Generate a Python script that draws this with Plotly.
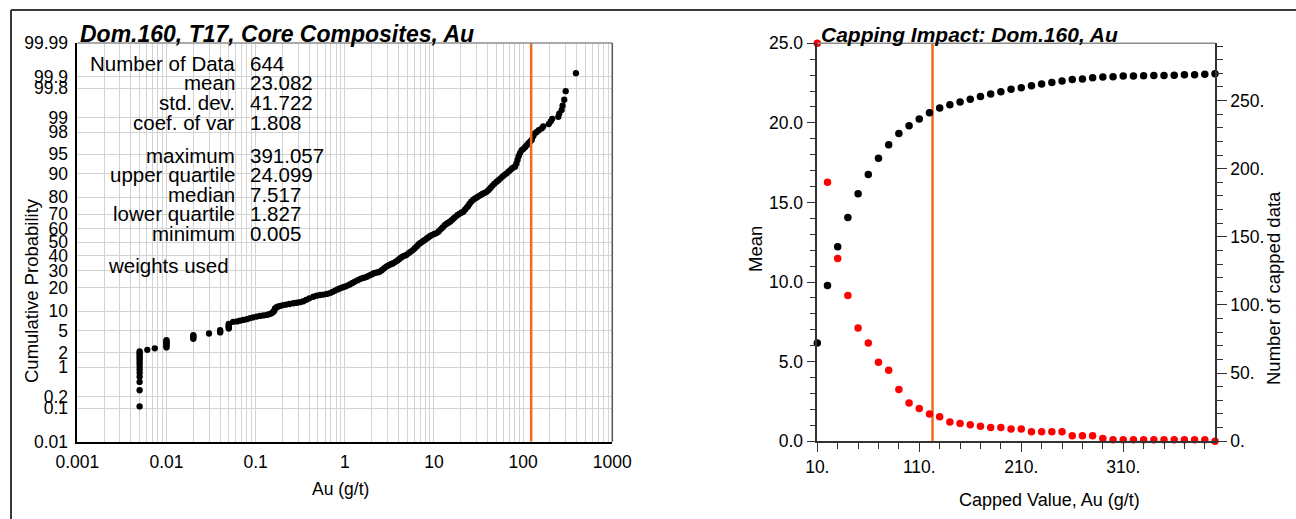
import plotly.graph_objects as go
from statistics import NormalDist

# ---------------- cumulative probability plot: Au composites ----------------
au_grade = [
    0.005, 0.005, 0.005, 0.005, 0.005, 0.005, 0.005, 0.005, 0.005, 0.005, 0.005, 0.005, 0.005, 0.005,
    0.0061, 0.0074,
    0.01, 0.01, 0.01, 0.01, 0.01, 0.01, 0.01,
    0.02, 0.02, 0.02, 0.02,
    0.03,
    0.04, 0.04, 0.04,
    0.05, 0.05, 0.05, 0.05, 0.05,
    0.056, 0.062, 0.067, 0.073, 0.08, 0.087, 0.094, 0.103, 0.112, 0.122, 0.133, 0.142, 0.151,
    0.158, 0.162, 0.165, 0.172, 0.18, 0.19, 0.204, 0.22, 0.24, 0.265, 0.29, 0.315, 0.344, 0.37,
    0.4, 0.444, 0.485, 0.53, 0.58, 0.63, 0.684, 0.73, 0.78, 0.83, 0.88, 0.94, 1.0, 1.07, 1.14,
    1.22, 1.3, 1.4, 1.5, 1.6, 1.7, 1.8, 1.9, 2.0, 2.12, 2.25, 2.38, 2.48, 2.6, 2.75, 2.9, 3.05,
    3.2, 3.35, 3.5, 3.7, 3.9, 4.1, 4.3, 4.5, 4.7, 4.94, 5.2, 5.5, 5.8, 6.1, 6.4, 6.7, 7.0, 7.3,
    7.59, 7.9, 8.3, 8.7, 9.1, 9.6, 10.1, 10.7, 11.3, 11.9, 12.5, 13.2, 13.9, 14.5, 15.1, 15.8,
    16.6, 17.4, 18.3, 19.3, 20.3, 21.3, 22.3, 23.3, 24.1, 25.0, 26.2, 27.6, 29.0, 30.5, 32.0,
    33.6, 35.3, 37.1, 39.0, 41.0, 43.0, 45.2, 47.6, 50.5, 53.0, 55.8, 58.8, 62.0, 65.4, 69.0,
    72.8, 77.0, 81.1, 84.0, 86.5, 89.0, 92.2, 96.0, 100.0, 105.0, 110.0, 115.0, 120.0, 124.8,
    130.0, 135.9, 142.0, 150.0, 162.0, 168.0, 194.0, 204.0, 212.0, 248.0, 254.0, 270.0, 277.0,
    289.0, 300.0, 391.057,
]
cum_prob = [
    0.11, 0.29, 0.46, 0.61, 0.75, 0.9, 1.05, 1.2, 1.35, 1.5, 1.65, 1.8, 1.95, 2.1,
    2.25, 2.4,
    2.5, 2.65, 2.8, 2.95, 3.1, 3.25, 3.4,
    3.6, 3.8, 4.0, 4.15,
    4.45,
    4.65, 4.85, 5.05,
    5.4, 5.65, 5.9, 6.15, 6.4,
    6.9, 7.0, 7.2, 7.4, 7.6, 7.9, 8.1, 8.3, 8.5, 8.65, 8.8, 9.0, 9.3,
    9.7, 10.2, 10.9, 11.3, 11.6, 11.8, 12.1, 12.3, 12.5, 12.8, 13.0, 13.2, 13.6, 14.2,
    14.8, 15.5, 16.0, 16.3, 16.5, 16.8, 17.2, 17.8, 18.4, 19.0, 19.5, 20.0, 20.4, 21.0, 21.6,
    22.4, 23.2, 24.0, 24.8, 25.3, 25.7, 26.2, 26.9, 27.5, 28.2, 28.6, 28.9, 29.3, 30.2, 31.3, 32.4, 33.2,
    33.8, 34.4, 34.9, 35.8, 36.8, 37.8, 38.9, 39.7, 40.2, 40.8, 42.0, 43.2, 44.3, 45.6, 47.0, 48.4, 49.4, 50.2,
    51.0, 51.8, 52.9, 53.8, 54.7, 55.6, 56.2, 56.9, 58.1, 59.6, 61.0, 62.5, 63.6, 64.3, 65.0, 66.0,
    67.2, 68.3, 69.4, 70.3, 71.0, 71.6, 72.9, 74.2, 75.0, 76.3, 77.6, 78.7, 79.4, 80.0, 80.6,
    81.2, 81.8, 82.2, 82.7, 83.6, 84.5, 85.4, 86.3, 87.1, 87.7, 88.4, 89.0, 89.6, 90.1, 90.7,
    91.3, 91.8, 92.1, 92.9, 93.8, 94.6, 95.2, 95.7, 95.9, 96.2, 96.5, 96.8, 97.0, 97.2,
    97.6, 97.9, 98.03, 98.18, 98.33, 98.47, 98.63, 98.8, 98.94, 99.04, 99.18, 99.32, 99.46,
    99.61, 99.76, 99.92,
]

prob_ticks = [0.01, 0.1, 0.2, 1, 2, 5, 10, 20, 30, 40, 50, 60, 70, 80, 90, 95, 98, 99, 99.8, 99.9, 99.99]
prob_tick_labels = ["0.01", "0.1", "0.2", "1", "2", "5", "10", "20", "30", "40", "50",
                    "60", "70", "80", "90", "95", "98", "99", "99.8", "99.9", "99.99"]
grade_decades = [0.001, 0.01, 0.1, 1, 10, 100, 1000]
grade_decade_labels = ["0.001", "0.01", "0.1", "1", "10", "100", "1000"]

stat_names = ["Number of Data", "mean", "std. dev.", "coef. of var",
              "maximum", "upper quartile", "median", "lower quartile", "minimum"]
stat_values = ["644", "23.082", "41.722", "1.808",
               "391.057", "24.099", "7.517", "1.827", "0.005"]

cap_grade = 123.0

# ---------------- capping impact ----------------
cap_levels = [10, 20, 30, 40, 50, 60, 70, 80, 90, 100, 110, 120, 130, 140, 150, 160, 170, 180, 190, 200,
              210, 220, 230, 240, 250, 260, 270, 280, 290, 300, 310, 320, 330, 340, 350, 360, 370, 380, 390, 400]
capped_mean = [6.17, 9.79, 12.22, 14.06, 15.55, 16.76, 17.77, 18.63, 19.34, 19.82,
               20.24, 20.64, 20.93, 21.14, 21.31, 21.48, 21.65, 21.82, 21.96, 22.11,
               22.21, 22.34, 22.44, 22.53, 22.63, 22.72, 22.76, 22.84, 22.88, 22.90,
               22.94, 22.94, 22.96, 22.98, 22.98, 23.00, 23.02, 23.02, 23.05, 23.08]
n_capped = [292, 190, 134, 107, 83, 72, 58, 52, 38, 28, 24, 20, 18, 14, 13, 12, 11, 10, 10, 9,
            9, 7, 7, 7, 7, 4, 4, 4, 2, 1, 1, 1, 1, 1, 1, 1, 1, 1, 1, 0]
mean_ticks = [0, 5, 10, 15, 20, 25]
mean_tick_labels = ["0.0", "5.0", "10.0", "15.0", "20.0", "25.0"]
count_ticks = [0, 50, 100, 150, 200, 250]
count_tick_labels = ["0.", "50.", "100.", "150.", "200.", "250."]
cap_ticks = [10, 110, 210, 310]
cap_tick_labels = ["10.", "110.", "210.", "310."]

# ---------------- page geometry (pixels) ----------------
W, H = 1296, 519
FONT = "Liberation Sans, Arial, sans-serif"
GRID = "#d3d3d3"
ORANGE = "#ef6b22"


def fx(x):
    return x / W


def fy(y):
    return 1 - y / H


nd = NormalDist()


def z_of(p):
    return nd.inv_cdf(p / 100.0)


L_X0, L_X1, L_Y0, L_Y1 = 77.3, 612.3, 43.0, 441.7
R_X0, R_X1, R_Y0, R_Y1 = 817.3, 1215.0, 43.3, 441.2

grid_vals = [d * m for d in grade_decades[:-1] for m in range(1, 10)] + [grade_decades[-1]]
grid_text = [grade_decade_labels[grade_decades.index(v)] if v in grade_decades else "" for v in grid_vals]

fig = go.Figure()

fig.add_trace(go.Scatter(
    x=au_grade, y=[z_of(p) for p in cum_prob], mode="markers",
    marker=dict(color="black", size=6.3), xaxis="x", yaxis="y",
    cliponaxis=False, hoverinfo="skip", showlegend=False))
fig.add_trace(go.Scatter(
    x=[cap_grade, cap_grade], y=[z_of(0.01), z_of(99.99)], mode="lines",
    line=dict(color=ORANGE, width=2.5), xaxis="x", yaxis="y", showlegend=False, hoverinfo="skip"))

fig.add_trace(go.Scatter(
    x=[cap_grade, cap_grade], y=[0, 25], mode="lines",
    line=dict(color=ORANGE, width=2.5), xaxis="x2", yaxis="y2", showlegend=False, hoverinfo="skip"))
fig.add_trace(go.Scatter(
    x=cap_levels, y=capped_mean, mode="markers", marker=dict(color="black", size=7.5),
    xaxis="x2", yaxis="y2", cliponaxis=False, showlegend=False, name="Mean"))
fig.add_trace(go.Scatter(
    x=cap_levels, y=n_capped, mode="markers", marker=dict(color="#ff0000", size=7.5),
    xaxis="x2", yaxis="y3", cliponaxis=False, showlegend=False, name="Number of capped data"))

tickfont = dict(family=FONT, size=17.5, color="black")

fig.update_layout(
    width=W, height=H, margin=dict(l=0, r=0, t=0, b=0, autoexpand=False),
    paper_bgcolor="white", plot_bgcolor="white",
    font=dict(family=FONT, color="black"),
    xaxis=dict(
        domain=[fx(L_X0), fx(L_X1)], anchor="y", type="log", range=[-3, 3],
        tickmode="array", tickvals=grid_vals, ticktext=grid_text,
        showgrid=True, gridcolor=GRID, gridwidth=1, ticks="", zeroline=False,
        showline=True, linecolor="black", linewidth=1.5, tickfont=tickfont,
        ticklabelstandoff=4, automargin=False),
    yaxis=dict(
        domain=[fy(L_Y1), fy(L_Y0)], anchor="x", range=[z_of(0.01), z_of(99.99)],
        tickmode="array", tickvals=[z_of(p) for p in prob_ticks], ticktext=prob_tick_labels,
        showgrid=True, gridcolor=GRID, gridwidth=1, ticks="", zeroline=False,
        showline=True, linecolor="black", linewidth=1.5, tickfont=tickfont,
        ticklabelstandoff=4, automargin=False),
    xaxis2=dict(
        domain=[fx(R_X0), fx(R_X1)], anchor="y2", range=[10, 400],
        tickmode="array", tickvals=cap_ticks, ticktext=cap_tick_labels,
        ticks="outside", ticklen=9, tickwidth=1, tickcolor="#333",
        minor=dict(tickmode="linear", tick0=10, dtick=20, ticks="outside", ticklen=6,
                   tickcolor="#333", showgrid=False),
        showgrid=False, zeroline=False, showline=True, linecolor="#333", linewidth=1.5,
        tickfont=tickfont, automargin=False),
    yaxis2=dict(
        domain=[fy(R_Y1), fy(R_Y0)], anchor="x2", range=[0, 25],
        tickmode="array", tickvals=mean_ticks, ticktext=mean_tick_labels,
        ticks="outside", ticklen=9, tickwidth=1, tickcolor="#333",
        minor=dict(tickmode="linear", tick0=0, dtick=1, ticks="outside", ticklen=6,
                   tickcolor="#333", showgrid=False),
        showgrid=False, zeroline=False, showline=True, linecolor="#333", linewidth=1.5,
        tickfont=tickfont, automargin=False),
    yaxis3=dict(
        domain=[fy(R_Y1), fy(R_Y0)], anchor="x2", overlaying="y2", side="right",
        range=[0, 292],
        tickmode="array", tickvals=count_ticks, ticktext=count_tick_labels,
        ticks="outside", ticklen=10, tickwidth=1, tickcolor="#333",
        minor=dict(tickmode="linear", tick0=0, dtick=10, ticks="outside", ticklen=6,
                   tickcolor="#333", showgrid=False),
        showgrid=False, zeroline=False, showline=True, linecolor="#333", linewidth=1.5,
        tickfont=tickfont, automargin=False),
)

shapes = [
    # outer frame
    dict(type="line", xref="paper", yref="paper", x0=fx(11), x1=fx(11), y0=fy(10), y1=fy(H + 5),
         line=dict(color="#3a3a3a", width=2)),
    dict(type="line", xref="paper", yref="paper", x0=fx(11), x1=fx(W + 5), y0=fy(10), y1=fy(10),
         line=dict(color="#3a3a3a", width=2)),
    # left panel top and right edges
    dict(type="line", xref="paper", yref="paper", x0=fx(L_X0), x1=fx(L_X1), y0=fy(L_Y0), y1=fy(L_Y0),
         line=dict(color="#8c8c8c", width=1.5)),
    dict(type="line", xref="paper", yref="paper", x0=fx(L_X1), x1=fx(L_X1), y0=fy(L_Y0), y1=fy(L_Y1),
         line=dict(color="#555555", width=1.5)),
    # right panel top edge
    dict(type="line", xref="paper", yref="paper", x0=fx(R_X0), x1=fx(R_X1), y0=fy(R_Y0), y1=fy(R_Y0),
         line=dict(color="#8c8c8c", width=1.5)),
]
fig.update_layout(shapes=shapes)

ann = []


def text(x, y, s, size, xanchor="left", yanchor="middle", angle=0, bold=False, italic=False):
    if bold:
        s = "<b>" + s + "</b>"
    if italic:
        s = "<i>" + s + "</i>"
    ann.append(dict(x=fx(x), y=fy(y), xref="paper", yref="paper", text=s, showarrow=False,
                    xanchor=xanchor, yanchor=yanchor, textangle=angle,
                    font=dict(family=FONT, size=size, color="black")))


text(78, 49, "Dom.160, T17, Core Composites, Au", 23, yanchor="bottom", bold=True, italic=True)
text(819, 48.5, "Capping Impact: Dom.160, Au", 21, yanchor="bottom", bold=True, italic=True)

stat_y = [63.3, 82.9, 102.5, 122.1, 155.0, 174.6, 194.2, 213.8, 233.4]
for name, val, yy in zip(stat_names, stat_values, stat_y):
    text(237, yy, name, 20.5, xanchor="right")
    text(248, yy, val, 20.5, xanchor="left")
text(106, 265, "weights used", 20.5)

text(340, 489, "Au (g/t)", 17.5, xanchor="center")
text(31, 291, "Cumulative Probability", 18.5, xanchor="center", angle=-90)
text(1049, 500, "Capped Value, Au (g/t)", 18, xanchor="center")
text(756, 249, "Mean", 18.5, xanchor="center", angle=-90)
text(1274, 288, "Number of capped data", 18.5, xanchor="center", angle=-90)

fig.update_layout(annotations=ann)
fig.write_html("out.html")
